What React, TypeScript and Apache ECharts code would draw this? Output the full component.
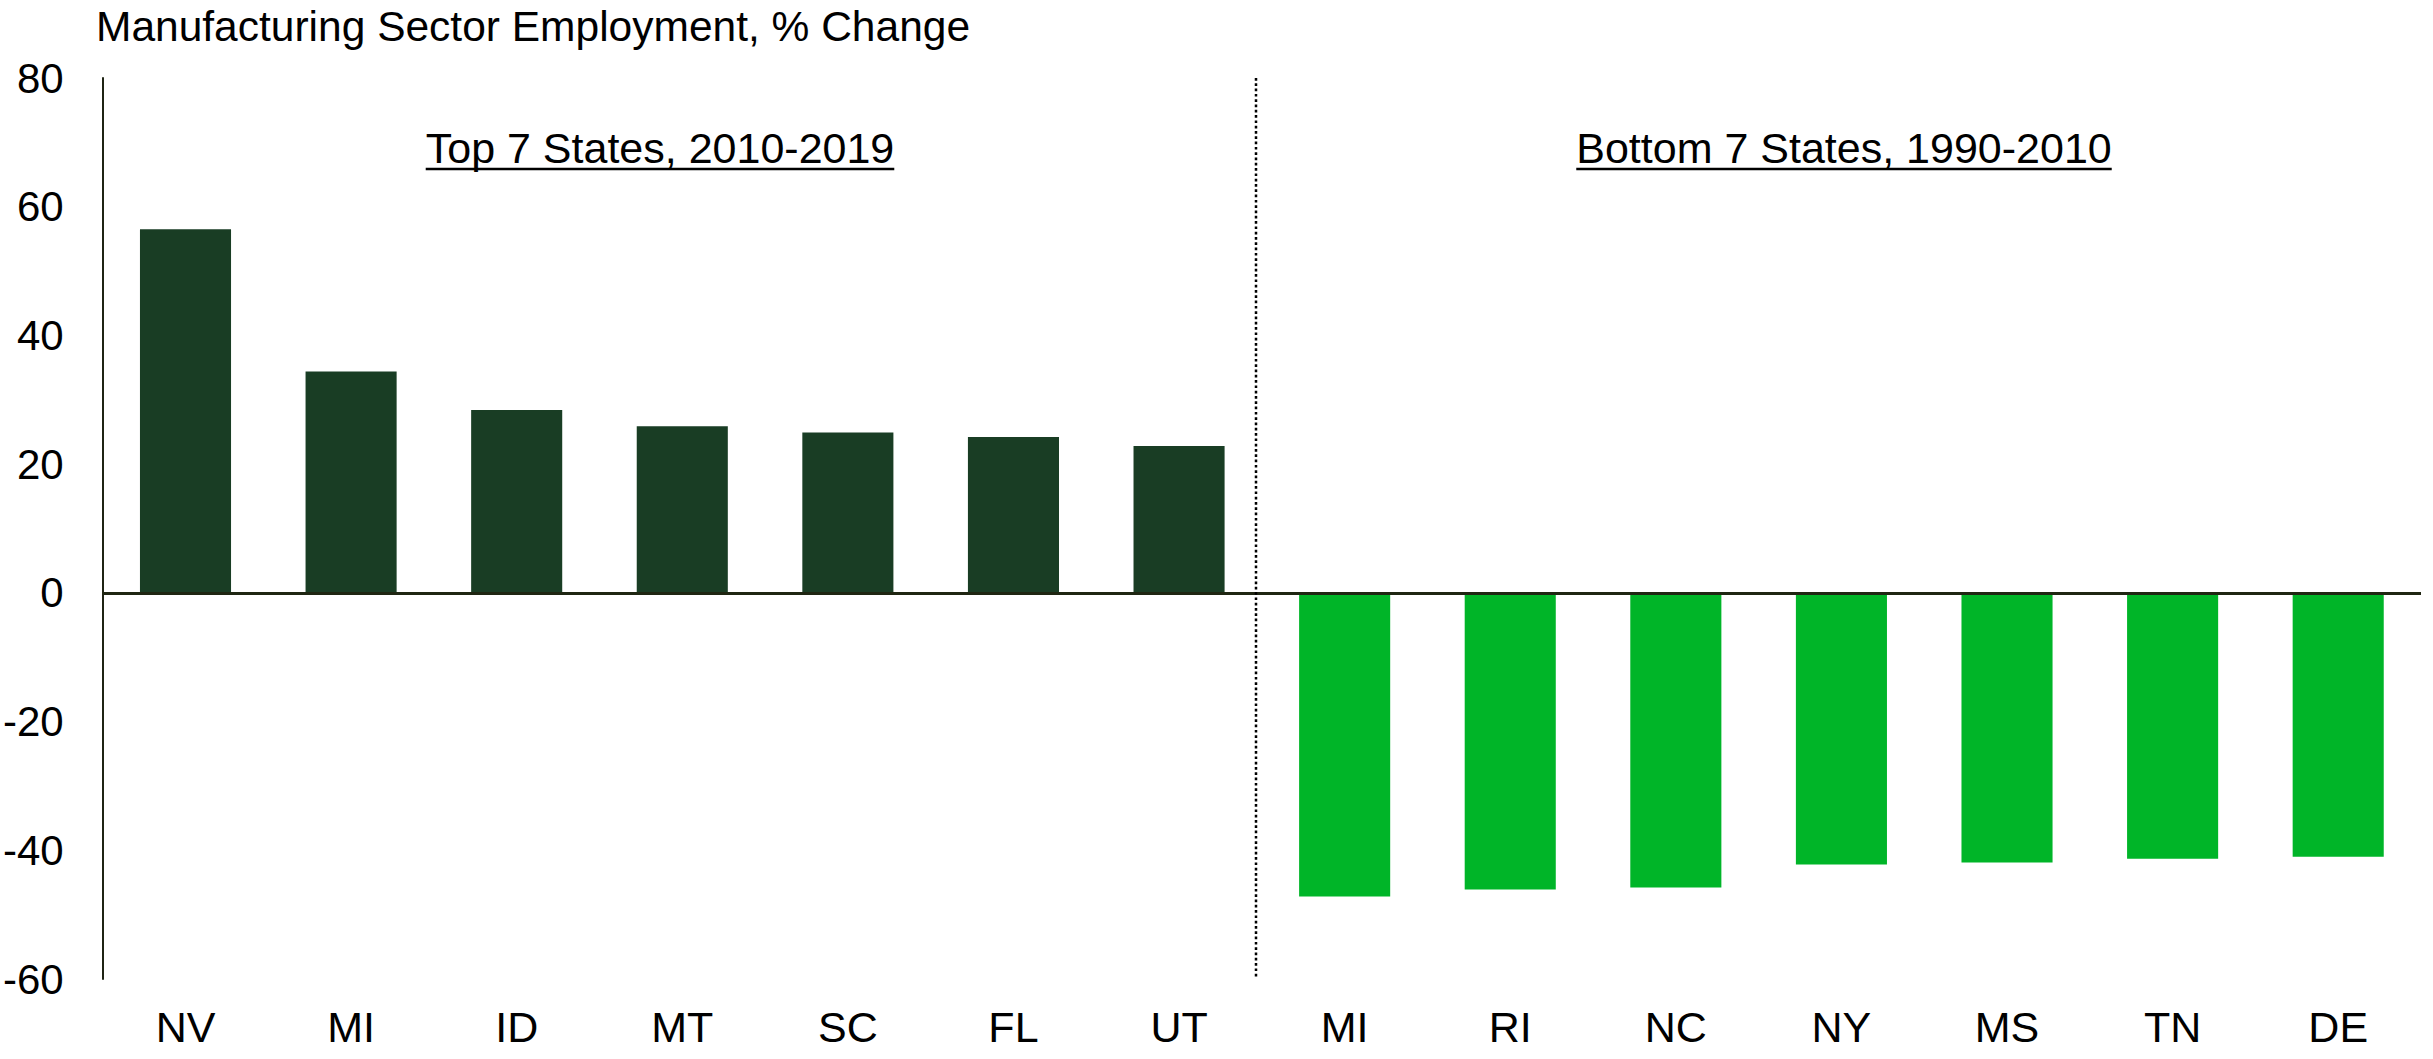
import React, { useEffect, useRef } from "react";
import * as echarts from "echarts";

const categories = ["NV", "MI", "ID", "MT", "SC", "FL", "UT", "MI ", "RI", "NC", "NY", "MS", "TN", "DE"];
const topValues = [56.5, 34.4, 28.4, 25.9, 24.9, 24.2, 22.8];
const bottomValues = [-47.2, -46.1, -45.8, -42.2, -41.9, -41.3, -41.0];
const yTicks = { min: -60, max: 80, interval: 20 };
const titleText = "Manufacturing Sector Employment, % Change";
const leftLabel = "Top 7 States, 2010-2019";
const rightLabel = "Bottom 7 States, 1990-2010";

const FONT = "'Liberation Sans', Arial, Helvetica, sans-serif";
const W = 2433;
const H = 1059;
const G = { left: 97, right: 12, top: 78, bottom: 80 };

function measure(text: string, size: number): number {
  const c = document.createElement("canvas");
  const ctx = c.getContext("2d");
  if (!ctx) return text.length * size * 0.5;
  ctx.font = `${size}px ${FONT}`;
  return ctx.measureText(text).width;
}

export default function App() {
  const ref = useRef<HTMLDivElement>(null);
  useEffect(() => {
    document.body.style.margin = "0";
    if (!ref.current) return;
    const chart = echarts.init(ref.current, undefined, { renderer: "svg" });

    const topData = categories.map((_, i) => (i < topValues.length ? topValues[i] : "-"));
    const botData = categories.map((_, i) => (i >= topValues.length ? bottomValues[i - topValues.length] : "-"));

    const plotW = W - G.left - G.right;
    const divX = G.left + plotW / 2;
    const annFont = 43;
    const annY = 148;
    const leftCx = 660;
    const rightCx = 1844;
    const lw = measure(leftLabel, annFont);
    const rw = measure(rightLabel, annFont);
    const ulY = 169;

    chart.setOption({
      animation: false,
      backgroundColor: "#ffffff",
      grid: { left: G.left, right: G.right, top: G.top, bottom: G.bottom, containLabel: false },
      xAxis: {
        type: "category",
        data: categories,
        axisLine: { show: false, onZero: false },
        axisTick: { show: false },
        axisLabel: {
          color: "#000",
          fontSize: 43,
          fontFamily: FONT,
          margin: 26,
          interval: 0,
          formatter: (v: string) => v.trim(),
        },
        splitLine: { show: false },
      },
      yAxis: {
        type: "value",
        min: yTicks.min,
        max: yTicks.max,
        interval: yTicks.interval,
        axisLine: { show: true, lineStyle: { color: "#1f2414", width: 2 } },
        axisTick: { show: false },
        splitLine: { show: false },
        axisLabel: { color: "#000", fontSize: 42, fontFamily: FONT, margin: 39 },
      },
      series: [
        {
          type: "bar",
          data: topData,
          stack: "s",
          barCategoryGap: "45%",
          itemStyle: { color: "#193d24" },
          markLine: {
            silent: true,
            symbol: ["none", "none"],
            label: { show: false },
            lineStyle: { color: "#1f2612", width: 3, type: "solid" },
            data: [{ yAxis: 0 }],
          },
        },
        {
          type: "bar",
          data: botData,
          stack: "s",
          barCategoryGap: "45%",
          itemStyle: { color: "#00b528" },
        },
      ],
      graphic: [
        {
          type: "text",
          left: G.left - 1,
          top: 5,
          style: { text: titleText, fontSize: 42.5, fontFamily: FONT, fill: "#000" },
        },
        {
          type: "line",
          shape: { x1: divX - 3, y1: G.top, x2: divX - 3, y2: H - G.bottom },
          style: { stroke: "#000", lineWidth: 2.5, lineDash: [2.7, 2.6] },
          z: 10,
        },
        {
          type: "text",
          x: leftCx,
          y: annY,
          style: { text: leftLabel, fontSize: annFont, fontFamily: FONT, fill: "#000", align: "center", verticalAlign: "middle" },
        },
        {
          type: "line",
          shape: { x1: leftCx - lw / 2, y1: ulY, x2: leftCx + lw / 2, y2: ulY },
          style: { stroke: "#000", lineWidth: 2.5 },
        },
        {
          type: "text",
          x: rightCx,
          y: annY,
          style: { text: rightLabel, fontSize: annFont, fontFamily: FONT, fill: "#000", align: "center", verticalAlign: "middle" },
        },
        {
          type: "line",
          shape: { x1: rightCx - rw / 2, y1: ulY, x2: rightCx + rw / 2, y2: ulY },
          style: { stroke: "#000", lineWidth: 2.5 },
        },
      ],
    });
    return () => chart.dispose();
  }, []);
  return <div ref={ref} style={{ position: "absolute", left: 0, top: 0, width: W, height: H }} />;
}
